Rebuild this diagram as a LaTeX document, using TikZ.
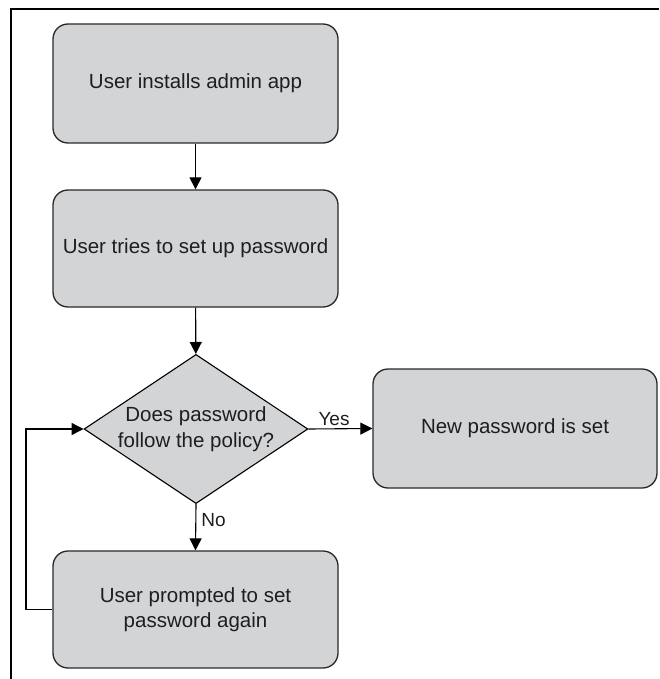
\documentclass[tikz,border=0pt]{standalone}
\usepackage{fontspec}
\setmainfont{Liberation Sans}
\usetikzlibrary{shapes.geometric,arrows.meta}
\definecolor{boxgray}{RGB}{211,212,214}
\definecolor{edgegray}{RGB}{40,40,40}
\definecolor{txt}{RGB}{30,30,30}
\tikzset{
  x=1pt,y=-1pt,
  stepbox/.style={draw=edgegray,line width=1.3pt,fill=boxgray,rounded corners=15pt,
    minimum width=285pt,minimum height=119pt,inner sep=0pt,align=center,
    text=txt,font=\fontsize{20.5}{25.5}\selectfont},
  decision/.style={draw=black,line width=1.1pt,fill=boxgray,diamond,shape aspect=1.5,
    minimum width=221pt,minimum height=146pt,inner sep=0pt,align=center,
    text=txt,font=\fontsize{20.5}{26}\selectfont},
  arr/.style={draw=black,line width=1.1pt,-{Triangle[length=12pt,width=12pt]}},
  lbl/.style={font=\fontsize{19}{21}\selectfont,text=txt,inner sep=3pt}
}
\begin{document}
\begin{tikzpicture}
\useasboundingbox (0,0) rectangle (659,679);
\draw[line width=1.4pt] (11,679) -- (11,9) -- (659,9);
\node[stepbox] (a) at (195.5,83.5) {User installs admin app};
\node[stepbox,minimum height=117pt] (b) at (195.5,248.5) {User tries to set up password};
\node[decision] (d) at (196,429) {Does password\\follow the policy?};
\node[stepbox,minimum width=284pt] (n) at (515,428.5) {New password is set};
\node[stepbox,minimum height=117pt] (p) at (195.5,609.5) {User prompted to set\\password again};
\coordinate (loop) at (26,609.5);
\draw[arr] (a) -- (b);
\draw[arr] (b) -- (d);
\draw[arr] (d.east) -- node[lbl,pos=0.4,above] {Yes} (n.west);
\draw[arr] (d.south) -- node[lbl,pos=0.35,right,inner sep=5pt] {No} (p.north);
\draw[arr] (p.west) -- (loop) |- (d.west);
\end{tikzpicture}
\end{document}
